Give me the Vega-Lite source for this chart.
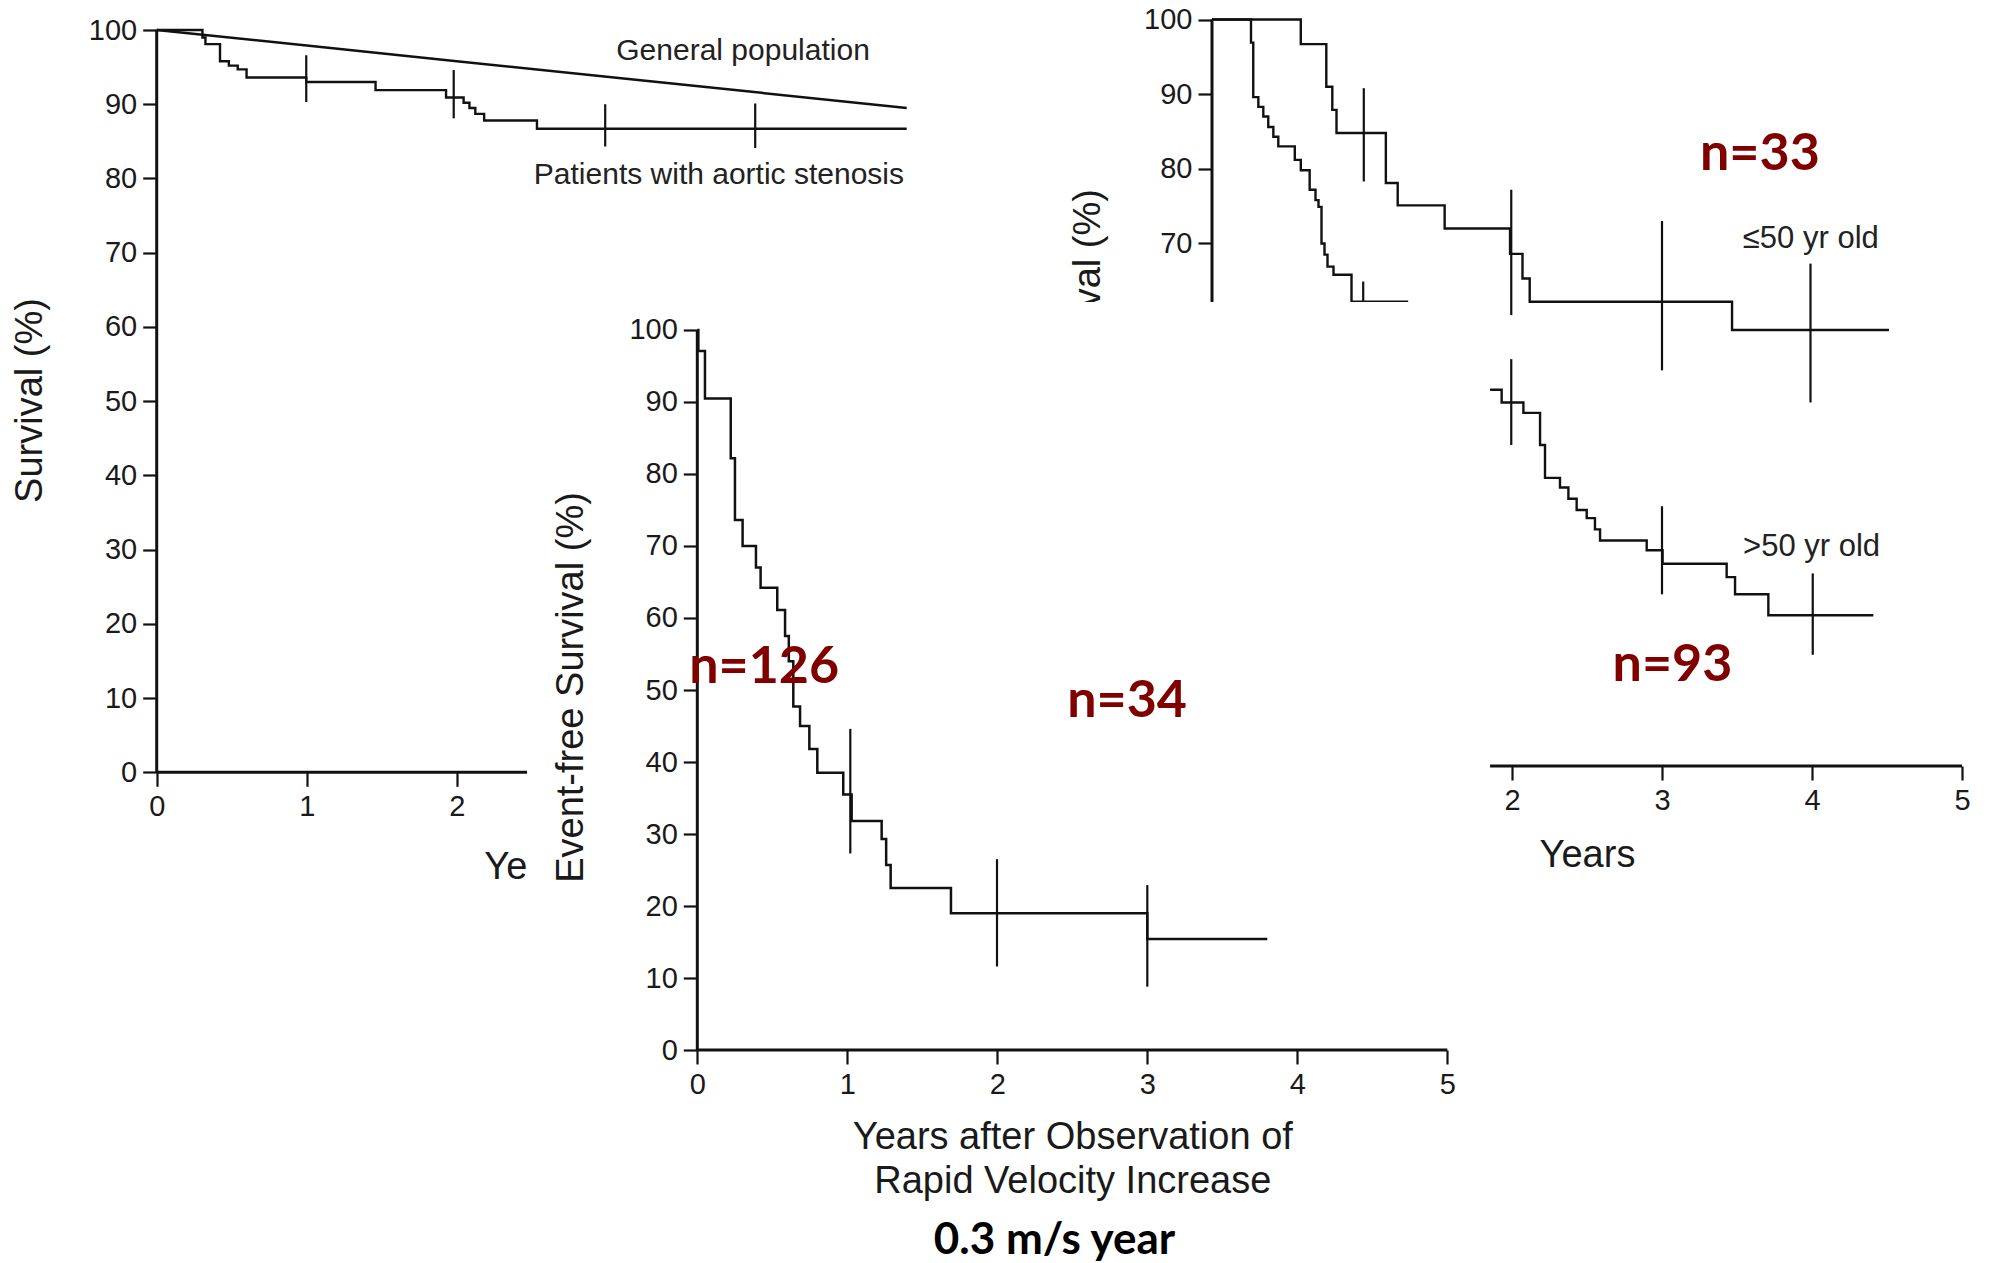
{
  "$schema": "https://vega.github.io/schema/vega-lite/v6.json",
  "width": 1992,
  "height": 1263,
  "padding": 0,
  "autosize": {"type": "none"},
  "background": "white",
  "config": {
    "view": {"stroke": null},
    "axis": {
      "domain": false, "grid": false, "ticks": true,
      "tickSize": 14, "tickWidth": 2.2, "tickColor": "#111",
      "labelFont": "Liberation Sans", "labelFontSize": 29, "labelColor": "#1a1a1a",
      "labelPadding": 6, "labelFlush": false, "labelOverlap": false, "format": "d",
      "titleFont": "Liberation Sans", "titleFontSize": 38, "titleFontWeight": "normal",
      "titleColor": "#1a1a1a", "titleBaseline": "middle", "titleAlign": "center"
    }
  },
  "datasets": {
    "tl_general": [
      {"year": 0, "survival": 100}, {"year": 1, "survival": 97.9}, {"year": 2, "survival": 95.8},
      {"year": 3, "survival": 93.7}, {"year": 4, "survival": 91.6}, {"year": 5, "survival": 89.5}
    ],
    "tl_patients": [
      {"year": 0, "survival": 100}, {"year": 0.305, "survival": 99.0}, {"year": 0.325, "survival": 98.1},
      {"year": 0.422, "survival": 95.8}, {"year": 0.481, "survival": 95.2}, {"year": 0.54, "survival": 94.7},
      {"year": 0.599, "survival": 93.6}, {"year": 0.997, "survival": 93.0}, {"year": 1.459, "survival": 91.9},
      {"year": 1.929, "survival": 90.9}, {"year": 2.046, "survival": 90.2}, {"year": 2.085, "survival": 89.5},
      {"year": 2.124, "survival": 88.7}, {"year": 2.183, "survival": 87.8}, {"year": 2.535, "survival": 86.7},
      {"year": 5.0, "survival": 86.7}
    ],
    "tl_bars": [
      {"year": 0.997, "lower": 90.3, "upper": 96.6}, {"year": 1.98, "lower": 88.1, "upper": 94.6},
      {"year": 2.99, "lower": 84.3, "upper": 90.0}, {"year": 3.99, "lower": 84.1, "upper": 90.1}
    ],
    "tl_labels": [
      {"year": 3.909, "survival": 97.2, "label": "General population"},
      {"year": 3.748, "survival": 80.5, "label": "Patients with aortic stenosis"}
    ],
    "tr_le50": [
      {"year": 0, "survival": 100}, {"year": 0.592, "survival": 96.7}, {"year": 0.762, "survival": 91.0},
      {"year": 0.802, "survival": 87.9}, {"year": 0.83, "survival": 84.8}, {"year": 1.159, "survival": 78.1},
      {"year": 1.238, "survival": 75.1}, {"year": 1.551, "survival": 72.0}, {"year": 1.987, "survival": 68.6},
      {"year": 2.07, "survival": 65.3}, {"year": 2.118, "survival": 62.2}, {"year": 3.467, "survival": 58.4},
      {"year": 4.513, "survival": 58.4}
    ],
    "tr_gt50": [
      {"year": 0, "survival": 100}, {"year": 0.26, "survival": 96.9}, {"year": 0.275, "survival": 89.6},
      {"year": 0.309, "survival": 88.3}, {"year": 0.342, "survival": 87.0}, {"year": 0.375, "survival": 85.6},
      {"year": 0.409, "survival": 84.3}, {"year": 0.442, "survival": 83.0}, {"year": 0.552, "survival": 81.2},
      {"year": 0.592, "survival": 79.8}, {"year": 0.651, "survival": 77.2}, {"year": 0.69, "survival": 75.8},
      {"year": 0.71, "survival": 74.9}, {"year": 0.73, "survival": 70.0}, {"year": 0.75, "survival": 68.5},
      {"year": 0.77, "survival": 66.9}, {"year": 0.81, "survival": 65.8}, {"year": 0.93, "survival": 62.2},
      {"year": 1.3, "survival": 50.4}, {"year": 1.931, "survival": 48.7}, {"year": 2.076, "survival": 47.3},
      {"year": 2.187, "survival": 43.0}, {"year": 2.22, "survival": 38.6}, {"year": 2.32, "survival": 37.3},
      {"year": 2.376, "survival": 35.8}, {"year": 2.431, "survival": 34.3}, {"year": 2.498, "survival": 33.2},
      {"year": 2.553, "survival": 31.7}, {"year": 2.587, "survival": 30.2}, {"year": 2.898, "survival": 28.9},
      {"year": 3.004, "survival": 27.1}, {"year": 3.431, "survival": 25.3}, {"year": 3.487, "survival": 23.0},
      {"year": 3.709, "survival": 20.2}, {"year": 4.409, "survival": 20.2}
    ],
    "tr_bars": [
      {"year": 1.012, "lower": 78.3, "upper": 90.8}, {"year": 1.995, "lower": 60.4, "upper": 77.2},
      {"year": 3.0, "lower": 53.0, "upper": 73.0}, {"year": 3.99, "lower": 48.7, "upper": 67.3},
      {"year": 1.008, "lower": 52.0, "upper": 64.9}, {"year": 1.995, "lower": 43.0, "upper": 54.5},
      {"year": 3.0, "lower": 23.0, "upper": 34.8}, {"year": 4.005, "lower": 14.9, "upper": 25.8}
    ],
    "tr_labels": [
      {"year": 3.992, "survival": 70.6, "label": "≤50 yr old"},
      {"year": 3.997, "survival": 29.3, "label": ">50 yr old"}
    ],
    "tr_counts": [
      {"year": 3.653, "survival": 81.95, "label": "n=33"},
      {"year": 3.07, "survival": 13.5, "label": "n=93"}
    ],
    "m_curve": [
      {"year": 0, "survival": 100}, {"year": 0.007, "survival": 97.1}, {"year": 0.051, "survival": 90.5},
      {"year": 0.223, "survival": 82.2}, {"year": 0.251, "survival": 73.6}, {"year": 0.302, "survival": 70.0},
      {"year": 0.391, "survival": 67.0}, {"year": 0.422, "survival": 64.2}, {"year": 0.533, "survival": 61.1},
      {"year": 0.585, "survival": 57.5}, {"year": 0.61, "survival": 54.0}, {"year": 0.64, "survival": 47.7},
      {"year": 0.685, "survival": 45.0}, {"year": 0.747, "survival": 41.8}, {"year": 0.8, "survival": 38.5},
      {"year": 0.973, "survival": 35.5}, {"year": 1.029, "survival": 31.8}, {"year": 1.229, "survival": 29.3},
      {"year": 1.259, "survival": 25.7}, {"year": 1.289, "survival": 22.5}, {"year": 1.691, "survival": 19.0},
      {"year": 3.0, "survival": 15.4}, {"year": 3.8, "survival": 15.4}
    ],
    "m_bars": [
      {"year": 1.02, "lower": 27.3, "upper": 44.6},
      {"year": 1.998, "lower": 11.6, "upper": 26.5},
      {"year": 3.0, "lower": 8.8, "upper": 22.9}
    ],
    "m_counts": [
      {"year": 0.446, "survival": 53.2, "label": "n=126"},
      {"year": 2.865, "survival": 48.5, "label": "n=34"}
    ],
    "m_caption": [
      {"year": 2.381, "survival": -26.5, "label": "0.3 m/s year"}
    ]
  },
  "layer": [
    {
      "layer": [
        {
          "data": {"name": "tl_general"},
          "mark": {"type": "line", "color": "#111", "strokeWidth": 2.5},
          "encoding": {
            "x": {"field": "year", "type": "quantitative",
              "scale": {"domain": [-1.0447, 12.2353], "nice": false, "zero": false},
              "axis": {"orient": "bottom", "offset": -490.7, "values": [0, 1, 2],
                "title": "Years", "titleX": 531.7, "titleY": 95, "zindex": 0}},
            "y": {"field": "survival", "type": "quantitative",
              "scale": {"domain": [-66.105, 104.042], "nice": false, "zero": false},
              "axis": {"orient": "left", "offset": -156.7, "values": [0, 10, 20, 30, 40, 50, 60, 70, 80, 90, 100],
                "title": "Survival (%)", "titleAngle": 270, "titleX": -126.2, "titleY": 400, "zindex": 0}}
          }
        },
        {
          "data": {"name": "tl_patients"},
          "mark": {"type": "line", "interpolate": "step-after", "color": "#111", "strokeWidth": 2.4},
          "encoding": {
            "x": {"field": "year", "type": "quantitative", "scale": {"domain": [-1.0447, 12.2353], "nice": false, "zero": false}},
            "y": {"field": "survival", "type": "quantitative", "scale": {"domain": [-66.105, 104.042], "nice": false, "zero": false}}
          }
        },
        {
          "data": {"name": "tl_bars"},
          "mark": {"type": "rule", "color": "#111", "strokeWidth": 2.2},
          "encoding": {
            "x": {"field": "year", "type": "quantitative", "scale": {"domain": [-1.0447, 12.2353], "nice": false, "zero": false}},
            "y": {"field": "lower", "type": "quantitative", "scale": {"domain": [-66.105, 104.042], "nice": false, "zero": false}},
            "y2": {"field": "upper"}
          }
        },
        {
          "data": {"values": [{}]},
          "mark": {"type": "rule", "color": "#111", "strokeWidth": 3},
          "encoding": {
            "x": {"datum": 0, "type": "quantitative", "scale": {"domain": [-1.0447, 12.2353], "nice": false, "zero": false}},
            "x2": {"datum": 5},
            "y": {"datum": 0, "type": "quantitative", "scale": {"domain": [-66.105, 104.042], "nice": false, "zero": false}}
          }
        },
        {
          "data": {"values": [{}]},
          "mark": {"type": "rule", "color": "#111", "strokeWidth": 3},
          "encoding": {
            "x": {"datum": 0, "type": "quantitative", "scale": {"domain": [-1.0447, 12.2353], "nice": false, "zero": false}},
            "y": {"datum": 0, "type": "quantitative", "scale": {"domain": [-66.105, 104.042], "nice": false, "zero": false}},
            "y2": {"datum": 100}
          }
        },
        {
          "data": {"name": "tl_labels"},
          "mark": {"type": "text", "font": "Liberation Sans", "fontSize": 30, "color": "#222", "align": "center", "baseline": "middle"},
          "encoding": {
            "x": {"field": "year", "type": "quantitative", "scale": {"domain": [-1.0447, 12.2353], "nice": false, "zero": false}},
            "y": {"field": "survival", "type": "quantitative", "scale": {"domain": [-66.105, 104.042], "nice": false, "zero": false}},
            "text": {"field": "label"}
          }
        }
      ]
    },
    {
      "layer": [
        {
          "data": {"name": "tr_le50"},
          "mark": {"type": "line", "interpolate": "step-after", "color": "#111", "strokeWidth": 2.4},
          "encoding": {
            "x": {"field": "year", "type": "quantitative",
              "scale": {"domain": [-8.08, 5.2], "nice": false, "zero": false},
              "axis": {"orient": "bottom", "offset": -497, "values": [2, 3, 4, 5],
                "title": "Years", "titleX": 1587, "titleY": 89, "zindex": 0}},
            "y": {"field": "survival", "type": "quantitative",
              "scale": {"domain": [-66.577, 102.613], "nice": false, "zero": false},
              "axis": {"orient": "left", "offset": -1212, "values": [70, 80, 90, 100],
                "title": "Survival (%)", "titleAngle": 270, "titleX": -124, "titleY": 291, "zindex": 0}}
          }
        },
        {
          "data": {"name": "tr_gt50"},
          "mark": {"type": "line", "interpolate": "step-after", "color": "#111", "strokeWidth": 2.4},
          "encoding": {
            "x": {"field": "year", "type": "quantitative", "scale": {"domain": [-8.08, 5.2], "nice": false, "zero": false}},
            "y": {"field": "survival", "type": "quantitative", "scale": {"domain": [-66.577, 102.613], "nice": false, "zero": false}}
          }
        },
        {
          "data": {"name": "tr_bars"},
          "mark": {"type": "rule", "color": "#111", "strokeWidth": 2.2},
          "encoding": {
            "x": {"field": "year", "type": "quantitative", "scale": {"domain": [-8.08, 5.2], "nice": false, "zero": false}},
            "y": {"field": "lower", "type": "quantitative", "scale": {"domain": [-66.577, 102.613], "nice": false, "zero": false}},
            "y2": {"field": "upper"}
          }
        },
        {
          "data": {"values": [{}]},
          "mark": {"type": "rule", "color": "#111", "strokeWidth": 3},
          "encoding": {
            "x": {"datum": 0, "type": "quantitative", "scale": {"domain": [-8.08, 5.2], "nice": false, "zero": false}},
            "x2": {"datum": 5},
            "y": {"datum": 0, "type": "quantitative", "scale": {"domain": [-66.577, 102.613], "nice": false, "zero": false}}
          }
        },
        {
          "data": {"values": [{}]},
          "mark": {"type": "rule", "color": "#111", "strokeWidth": 3},
          "encoding": {
            "x": {"datum": 0, "type": "quantitative", "scale": {"domain": [-8.08, 5.2], "nice": false, "zero": false}},
            "y": {"datum": 0, "type": "quantitative", "scale": {"domain": [-66.577, 102.613], "nice": false, "zero": false}},
            "y2": {"datum": 100}
          }
        },
        {
          "data": {"name": "tr_labels"},
          "mark": {"type": "text", "font": "Liberation Sans", "fontSize": 31, "color": "#222", "align": "center", "baseline": "middle"},
          "encoding": {
            "x": {"field": "year", "type": "quantitative", "scale": {"domain": [-8.08, 5.2], "nice": false, "zero": false}},
            "y": {"field": "survival", "type": "quantitative", "scale": {"domain": [-66.577, 102.613], "nice": false, "zero": false}},
            "text": {"field": "label"}
          }
        },
        {
          "data": {"name": "tr_counts"},
          "mark": {"type": "text", "font": "Lato", "fontWeight": "bold", "fontSize": 52, "color": "#800000", "align": "center", "baseline": "middle"},
          "encoding": {
            "x": {"field": "year", "type": "quantitative", "scale": {"domain": [-8.08, 5.2], "nice": false, "zero": false}},
            "y": {"field": "survival", "type": "quantitative", "scale": {"domain": [-66.577, 102.613], "nice": false, "zero": false}},
            "text": {"field": "label"}
          }
        }
      ]
    },
    {
      "layer": [
        {
          "data": {"values": [{}]},
          "mark": {"type": "rect", "color": "white"},
          "encoding": {
            "x": {"datum": -1.135, "type": "quantitative", "scale": {"domain": [-4.6487, 8.6313], "nice": false, "zero": false}},
            "x2": {"datum": 5.285},
            "y": {"datum": 103.9, "type": "quantitative", "scale": {"domain": [-29.583, 145.833], "nice": false, "zero": false}},
            "y2": {"datum": -40}
          }
        },
        {
          "data": {"name": "m_curve"},
          "mark": {"type": "line", "interpolate": "step-after", "color": "#111", "strokeWidth": 2.5},
          "encoding": {
            "x": {"field": "year", "type": "quantitative",
              "scale": {"domain": [-4.6487, 8.6313], "nice": false, "zero": false},
              "axis": {"orient": "bottom", "offset": -213, "values": [0, 1, 2, 3, 4, 5],
                "title": ["Years after Observation of", "Rapid Velocity Increase"], "titleLineHeight": 44.5,
                "titleX": 1072.3, "titleY": 87, "zindex": 1}},
            "y": {"field": "survival", "type": "quantitative",
              "scale": {"domain": [-29.583, 145.833], "nice": false, "zero": false},
              "axis": {"orient": "left", "offset": -697.3, "values": [0, 10, 20, 30, 40, 50, 60, 70, 80, 90, 100],
                "title": "Event-free Survival (%)", "titleAngle": 270, "titleX": -126.3, "titleY": 687, "zindex": 1}}
          }
        },
        {
          "data": {"name": "m_bars"},
          "mark": {"type": "rule", "color": "#111", "strokeWidth": 2.2},
          "encoding": {
            "x": {"field": "year", "type": "quantitative", "scale": {"domain": [-4.6487, 8.6313], "nice": false, "zero": false}},
            "y": {"field": "lower", "type": "quantitative", "scale": {"domain": [-29.583, 145.833], "nice": false, "zero": false}},
            "y2": {"field": "upper"}
          }
        },
        {
          "data": {"values": [{}]},
          "mark": {"type": "rule", "color": "#111", "strokeWidth": 3},
          "encoding": {
            "x": {"datum": 0, "type": "quantitative", "scale": {"domain": [-4.6487, 8.6313], "nice": false, "zero": false}},
            "x2": {"datum": 5},
            "y": {"datum": 0, "type": "quantitative", "scale": {"domain": [-29.583, 145.833], "nice": false, "zero": false}}
          }
        },
        {
          "data": {"values": [{}]},
          "mark": {"type": "rule", "color": "#111", "strokeWidth": 3},
          "encoding": {
            "x": {"datum": 0, "type": "quantitative", "scale": {"domain": [-4.6487, 8.6313], "nice": false, "zero": false}},
            "y": {"datum": 0, "type": "quantitative", "scale": {"domain": [-29.583, 145.833], "nice": false, "zero": false}},
            "y2": {"datum": 100}
          }
        },
        {
          "data": {"name": "m_counts"},
          "mark": {"type": "text", "font": "Lato", "fontWeight": "bold", "fontSize": 52, "color": "#800000", "align": "center", "baseline": "middle"},
          "encoding": {
            "x": {"field": "year", "type": "quantitative", "scale": {"domain": [-4.6487, 8.6313], "nice": false, "zero": false}},
            "y": {"field": "survival", "type": "quantitative", "scale": {"domain": [-29.583, 145.833], "nice": false, "zero": false}},
            "text": {"field": "label"}
          }
        },
        {
          "data": {"name": "m_caption"},
          "mark": {"type": "text", "font": "Lato", "fontWeight": "bold", "fontSize": 44, "color": "#000", "align": "center", "baseline": "middle"},
          "encoding": {
            "x": {"field": "year", "type": "quantitative", "scale": {"domain": [-4.6487, 8.6313], "nice": false, "zero": false}},
            "y": {"field": "survival", "type": "quantitative", "scale": {"domain": [-29.583, 145.833], "nice": false, "zero": false}},
            "text": {"field": "label"}
          }
        }
      ]
    }
  ],
  "resolve": {
    "scale": {"x": "independent", "y": "independent"},
    "axis": {"x": "independent", "y": "independent"}
  }
}
